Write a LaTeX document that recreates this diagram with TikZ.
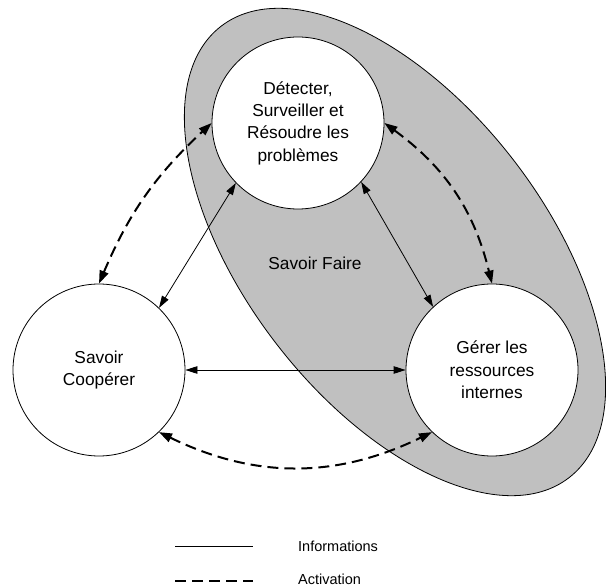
\documentclass[tikz,border=0pt]{standalone}
\usepackage{fontspec}
\setmainfont{Liberation Sans}
\usetikzlibrary{arrows.meta}
\definecolor{ellgray}{HTML}{C0C0C0}
\begin{document}
\begin{tikzpicture}[x=1pt,y=-1pt,
  bubble/.style={circle,draw=black,line width=0.8pt,fill=white,minimum size=172pt,inner sep=0pt,align=center,font=\fontsize{17.3}{22.3}\selectfont},
  info/.style={line width=0.8pt,{Triangle[length=12pt,width=7.5pt]}-{Triangle[length=12pt,width=7.5pt]}},
  activ/.style={line width=2pt,dash pattern=on 11pt off 6pt,{Triangle[length=13pt,width=9pt]}-{Triangle[length=13pt,width=9pt]}},
  lbl/.style={font=\fontsize{14.5}{18}\selectfont,anchor=west,inner sep=0pt}]
\useasboundingbox (0,0) rectangle (606,588);
\fill[ellgray,draw=black,line width=0.8pt] (395,252) ellipse[x radius=285pt,y radius=150pt,rotate=-52.4];
\node[bubble] (top) at (298,123) {Détecter,\\Surveiller et\\Résoudre les\\problèmes};
\node[bubble] (left) at (99,370) {Savoir\\Coopérer};
\node[bubble] (right) at (492,370) {Gérer les\\ressources\\internes};
\node[font=\fontsize{17.3}{22.3}\selectfont] (sf) at (315,263) {Savoir Faire};
\draw[info] (top.224) -- (left.46);
\draw[info] (top.-43) -- (right.133);
\draw[info] (left.east) -- (right.west);
\draw[activ] (left.north) to[bend left=12] (top.west);
\draw[activ] (top.east) to[bend left=20] (right.north);
\draw[activ] (left.-46) to[bend right=26] (right.226);
\coordinate (l1a) at (175,546);
\coordinate (l1b) at (253,546);
\coordinate (l2a) at (175,581);
\coordinate (l2b) at (253,581);
\draw[line width=0.8pt] (l1a) -- (l1b);
\draw[line width=2pt,dash pattern=on 11pt off 6pt] (l2a) -- (l2b);
\node[lbl] (t1) at (298,546) {Informations};
\node[lbl] (t2) at (298,579) {Activation};
\end{tikzpicture}
\end{document}
